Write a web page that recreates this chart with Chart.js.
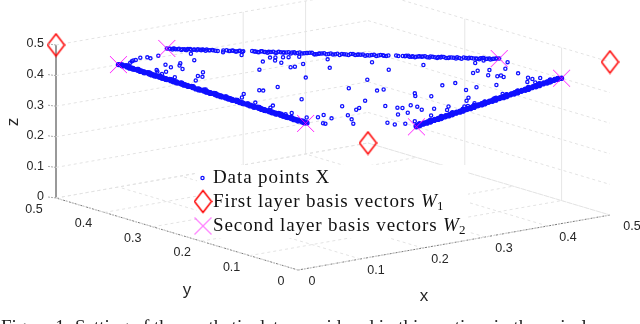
<!DOCTYPE html>
<html>
<head>
<meta charset="utf-8">
<title>Synthetic data</title>
<script src="https://cdn.jsdelivr.net/npm/chart.js@4/dist/chart.umd.js"></script>
<style>
  html, body { margin: 0; padding: 0; background: #fff; overflow: hidden; }
  canvas { display: block; }
</style>
</head>
<body>
<canvas id="myChart" width="640" height="324"></canvas>
<script>
// axis ticks
const xTicks = [0, 0.1, 0.2, 0.3, 0.4, 0.5];
const yTicks = [0, 0.1, 0.2, 0.3, 0.4, 0.5];
const zTicks = [0, 0.1, 0.2, 0.3, 0.4, 0.5];
const tickLabels = ['0', '0.1', '0.2', '0.3', '0.4', '0.5'];

// vertical grid lines that can be seen on the two back walls
const wallXTicks = [0.3, 0.4];
const wallYTicks = [0.1, 0.3];

// first layer basis vectors
const w1X = [0, 0.5, 0.5];
const w1Y = [0.5, 0.5, 0];
const w1Z = [0.5, 0, 0.5];

// second layer basis vectors
const w2X = [0.1, 0.1, 0.4, 0.5, 0.4, 0.5];
const w2Y = [0.5, 0.4, 0.5, 0.4, 0.1, 0.1];
const w2Z = [0.4, 0.5, 0.1, 0.1, 0.5, 0.4];

// data points along the top edge
const topX = [.100,.103,.106,.108,.111,.114,.117,.119,.122,.125,.128,.131,.133,.136,.139,.142,.146,
  .151,.154,.157,.160,.163,.166,.169,
  .177,.180,.183,.186,.189,.192,.196,.199,.203,.206,.210,.213,.216,.220,.224,.227,.231,.235,.238,.242,.246,.250,.254,.258,.262,.266,.270,.273,.277,.281,.285,.289,.293,.296,.300,
  .307,.309,
  .313,.316,.319,.322,.325,.328,.331,.335,.338,.342,.345,.348,.352,.355,.359,.362,.366,.370,.373,.377,.380,.383,.386,.389,.392,.395,.398,.400];
const topY = [.400,.397,.394,.392,.389,.386,.383,.381,.378,.375,.372,.369,.367,.364,.361,.358,.354,
  .349,.346,.343,.340,.337,.334,.331,
  .323,.320,.317,.314,.311,.308,.304,.301,.297,.294,.290,.287,.284,.280,.276,.273,.269,.265,.262,.258,.254,.250,.246,.242,.238,.234,.230,.227,.223,.219,.215,.211,.207,.204,.200,
  .193,.191,
  .187,.184,.181,.178,.175,.172,.169,.165,.162,.158,.155,.152,.148,.145,.141,.138,.134,.130,.127,.123,.120,.117,.114,.111,.108,.105,.102,.100];
const topZ = [.500,.499,.500,.498,.500,.499,.497,.500,.498,.499,.500,.497,.499,.500,.498,.499,.497,
  .499,.500,.498,.499,.497,.500,.498,
  .500,.499,.497,.500,.498,.499,.500,.497,.499,.498,.500,.499,.497,.500,.498,.499,.500,.496,.499,.500,.498,.497,.500,.499,.498,.500,.497,.499,.500,.498,.499,.496,.500,.498,.499,
  .500,.498,
  .499,.500,.497,.499,.498,.500,.499,.497,.500,.498,.499,.500,.497,.499,.498,.500,.496,.499,.500,.498,.497,.499,.500,.498,.496,.499,.500,.500];
const top2X = [.102,.105,.107,.110,.113,.116,.118,.121,.124,.127,.130,.132,.135,.138,.141,.144,
  .156,.159,.162,.165,.168,
  .179,.182,.185,.188,.191,.194,.198,.201,.205,.208,.212,.215,.218,.222,.226,.229,.233,.237,.240,.244,.248,.252,.256,.260,.264,.268,.272,.275,.279,.283,.287,.291,.295,.298,
  .315,.318,.321,.324,.327,.330,.333,.337,.340,.344,.347,.350,.354,.357,.361,.364,.368,.372,.375,.379,.382,.385,.388,.391,.394,.397];
const top2Y = [.398,.395,.393,.390,.387,.384,.382,.379,.376,.373,.370,.368,.365,.362,.359,.356,
  .344,.341,.338,.335,.332,
  .321,.318,.315,.312,.309,.306,.302,.299,.295,.292,.288,.285,.282,.278,.274,.271,.267,.263,.260,.256,.252,.248,.244,.240,.236,.232,.228,.225,.221,.217,.213,.209,.205,.202,
  .185,.182,.179,.176,.173,.170,.167,.163,.160,.156,.153,.150,.146,.143,.139,.136,.132,.128,.125,.121,.118,.115,.112,.109,.106,.103];
const top2Z = [.499,.497,.500,.498,.496,.499,.497,.500,.498,.497,.499,.500,.496,.498,.499,.497,
  .498,.500,.497,.499,.496,
  .499,.497,.500,.498,.496,.499,.497,.500,.498,.499,.496,.500,.498,.497,.499,.500,.496,.498,.499,.497,.500,.498,.496,.499,.497,.500,.498,.499,.496,.497,.500,.498,.499,.497,
  .498,.500,.497,.496,.499,.498,.500,.497,.499,.496,.498,.500,.497,.499,.496,.498,.500,.497,.499,.498,.496,.500,.497,.499,.498,.500];

// data points along the lower left edge
const leftX = [.100,.104,.107,.111,.114,.118,.121,.125,.128,.132,.135,.139,.142,.146,.149,.153,.156,.160,.163,.167,.170,.174,.177,.181,.184,.188,.191,.195,.198,.202,.205,.209,.212,.216,.219,
  .224,.227,.231,.234,.238,.241,.245,.248,.252,.255,.259,.262,.266,.269,.273,.276,.280,.283,.287,.290,.294,.297,.301,.304,.308,.311,.315,.318,.322,.325,.329,.332,.336,.339,.343,.346,.350,.353,.357,.360,.364,.367,.371,.374,.378,.381,.385,.388,.392,.395,.398,.400];
const leftY = [.500,.497,.499,.495,.498,.500,.497,.499,.495,.498,.500,.497,.499,.495,.498,.500,.497,.499,.495,.498,.500,.497,.499,.495,.498,.500,.497,.499,.495,.498,.500,.497,.499,.495,.498,
  .500,.497,.499,.495,.498,.500,.497,.499,.495,.498,.500,.497,.499,.495,.498,.500,.497,.499,.495,.498,.500,.497,.499,.495,.498,.500,.497,.499,.495,.498,.500,.497,.499,.495,.498,.500,.497,.499,.495,.498,.500,.497,.499,.495,.498,.500,.497,.499,.495,.498,.500,.497];
const leftZ = [.400,.399,.394,.394,.388,.382,.382,.376,.377,.370,.365,.364,.359,.359,.353,.347,.347,.341,.342,.335,.330,.329,.324,.324,.318,.312,.312,.306,.307,.300,.295,.294,.289,.289,.283,
  .276,.276,.270,.271,.264,.259,.258,.253,.253,.247,.241,.241,.235,.236,.229,.224,.223,.218,.218,.212,.206,.206,.200,.201,.194,.189,.188,.183,.183,.177,.171,.171,.165,.166,.159,.154,.153,.148,.148,.142,.136,.136,.130,.131,.124,.119,.118,.113,.113,.107,.102,.103];
const left2X = [.102,.106,.109,.113,.116,.120,.123,.127,.130,.134,.137,.141,.144,.148,.151,.155,.158,.162,.165,.169,.172,.176,.179,.183,.186,.190,.193,.197,.200,.204,.207,.211,.214,.218,
  .226,.229,.233,.236,.240,.243,.247,.250,.254,.257,.261,.264,.268,.271,.275,.278,.282,.285,.289,.292,.296,.299,.303,.306,.310,.313,.317,.320,.324,.327,.331,.334,.338,.341,.345,.348,.352,.355,.359,.362,.366,.369,.373,.376,.380,.383,.387,.390,.394,.397];
const left2Y = [.498,.500,.496,.499,.497,.498,.500,.496,.499,.497,.498,.500,.496,.499,.497,.498,.500,.496,.499,.497,.498,.500,.496,.499,.497,.498,.500,.496,.499,.497,.498,.500,.496,.499,
  .498,.500,.496,.499,.497,.498,.500,.496,.499,.497,.498,.500,.496,.499,.497,.498,.500,.496,.499,.497,.498,.500,.496,.499,.497,.498,.500,.496,.499,.497,.498,.500,.496,.499,.497,.498,.500,.496,.499,.497,.498,.500,.496,.499,.497,.498,.500,.496,.499,.497];
const left2Z = [.400,.394,.395,.388,.387,.382,.377,.377,.371,.369,.365,.359,.360,.353,.352,.347,.342,.342,.336,.334,.330,.324,.325,.318,.317,.312,.307,.307,.301,.299,.295,.289,.290,.283,
  .276,.271,.271,.265,.263,.259,.253,.254,.247,.246,.241,.236,.236,.230,.228,.224,.218,.219,.212,.211,.206,.201,.201,.195,.193,.189,.183,.184,.177,.176,.171,.166,.166,.160,.158,.154,.148,.149,.142,.141,.136,.131,.131,.125,.123,.119,.113,.114,.107,.106];

// data points along the lower right edge
const rightX = [.500,.497,.499,.495,.498,.500,.497,.499,.495,.498,.500,.497,.499,.495,.498,.500,.497,.499,.495,.498,.500,.497,.499,.495,.498,.500,.497,.499,.495,.498,.500,.497,.499,.495,.498,.500,.497,.499,.495,.498,.500,.497,.499,.495,.498,.500,.497,.499,.495,.498,.500,.497,.499,.495,.498,.500,.497,.499,.495,.498,.500,.497,.499,.495,.498,.500,.497,.500];
const rightY = [.400,.396,.391,.387,.382,.378,.373,.369,.364,.360,.355,.351,.346,.342,.337,.333,.328,.324,.319,.315,.310,.306,.301,.297,.292,.288,.283,.279,.274,.270,.265,.261,.256,.252,.247,.243,.238,.234,.229,.225,.220,.216,.211,.207,.202,.198,.193,.189,.184,.180,.175,.171,.166,.162,.157,.153,.148,.144,.139,.135,.130,.126,.121,.117,.112,.108,.104,.100];
const rightZ = [.100,.107,.110,.118,.120,.122,.130,.132,.141,.142,.145,.152,.155,.163,.165,.167,.175,.177,.186,.187,.190,.197,.200,.208,.210,.212,.220,.222,.231,.232,.235,.242,.245,.253,.255,.257,.265,.267,.276,.277,.280,.287,.290,.298,.300,.302,.310,.312,.321,.322,.325,.332,.335,.343,.345,.347,.355,.357,.366,.367,.370,.377,.380,.388,.390,.392,.399,.400];
const right2X = [.498,.500,.496,.499,.497,.498,.500,.496,.499,.497,.498,.500,.496,.499,.497,.498,.500,.496,.499,.497,.498,.500,.496,.499,.497,.498,.500,.496,.499,.497,.498,.500,.496,.499,.497,.498,.500,.496,.499,.497,.498,.500,.496,.499,.497,.498,.500,.496,.499,.497,.498,.500,.496,.499,.497,.498,.500,.496,.499,.497,.498,.500,.496,.499,.497,.498,.500];
const right2Y = [.398,.394,.389,.385,.380,.376,.371,.367,.362,.358,.353,.349,.344,.340,.335,.331,.326,.322,.317,.313,.308,.304,.299,.295,.290,.286,.281,.277,.272,.268,.263,.259,.254,.250,.245,.241,.236,.232,.227,.223,.218,.214,.209,.205,.200,.196,.191,.187,.182,.178,.173,.169,.164,.160,.155,.151,.146,.142,.137,.133,.128,.124,.119,.115,.110,.106,.102];
const right2Z = [.104,.106,.115,.116,.123,.126,.129,.137,.139,.145,.149,.151,.160,.161,.168,.171,.174,.182,.184,.190,.194,.196,.205,.206,.213,.216,.219,.227,.229,.235,.239,.241,.250,.251,.258,.261,.264,.272,.274,.280,.284,.286,.295,.296,.303,.306,.309,.317,.319,.325,.329,.331,.340,.341,.348,.351,.354,.362,.364,.370,.374,.376,.385,.386,.393,.396,.398];

// data points inside the triangle
const innerX = [.105,.103,.103,.103,.101,.106,.111,.112,.139,.150,.153,.148,.164,.134,.151,.145,.150,.159,.157,.178,.203,.194,.189,.199,.156,.178,.229,.212,.208,.212,.220,.230,.218,.223,.248,.251,.251,.287,.230,.237,.280,.284,.287,.337,.276,.284,.307,.329,.332,.387,.363,.353,.361,.395,.233,.276,
  .260,.282,.304,.337,.343,.349,.378,.380,.416,.423,.437,.419,.425,.450,.452,.353,.391,.412,.414,.420,.432,.442,.444,.449,.463,.430,.415,.452,.392,.471,.478,.488,.482,.480,.393,.406,.409,.388,.415,.428,.440,.409,.394,.414,.417,.466,.477,.483,.423,.437,.442,.455,.459,.442,.451,.462,.471,.484,.485,.477,.484,.471,.478,.490,.491,.490,.495,.490,.491];
const innerY = [.482,.476,.473,.468,.456,.448,.448,.433,.453,.456,.442,.434,.450,.394,.409,.479,.484,.486,.475,.484,.473,.457,.440,.454,.356,.346,.375,.346,.326,.320,.331,.331,.312,.307,.335,.330,.313,.354,.294,.271,.441,.438,.412,.427,.468,.482,.484,.476,.485,.481,.481,.495,.491,.468,.491,.496,
  .274,.298,.239,.247,.299,.345,.324,.313,.295,.303,.288,.242,.223,.233,.214,.196,.138,.160,.172,.146,.164,.158,.153,.154,.187,.126,.102,.128,.122,.132,.132,.139,.121,.145,.368,.397,.407,.409,.432,.441,.453,.458,.455,.482,.481,.416,.415,.401,.365,.358,.354,.380,.365,.337,.335,.340,.326,.349,.384,.304,.316,.255,.268,.288,.282,.267,.233,.209,.188];
const innerZ = [.413,.421,.425,.429,.443,.446,.441,.456,.408,.394,.405,.418,.386,.473,.439,.376,.367,.355,.368,.338,.324,.349,.371,.346,.488,.476,.396,.442,.466,.468,.450,.439,.470,.471,.416,.419,.436,.359,.476,.492,.279,.278,.301,.236,.256,.235,.209,.195,.183,.133,.156,.153,.148,.137,.275,.229,
  .466,.419,.457,.417,.358,.306,.298,.306,.289,.274,.275,.339,.353,.317,.334,.451,.471,.428,.414,.434,.404,.400,.404,.397,.350,.444,.482,.420,.486,.397,.390,.372,.397,.374,.239,.197,.185,.203,.153,.131,.107,.133,.151,.104,.102,.118,.109,.116,.212,.205,.204,.166,.177,.221,.214,.198,.204,.167,.131,.220,.200,.274,.255,.223,.227,.243,.273,.301,.312];

const legendLabels = ['Data points X', 'First layer basis vectors ', 'Second layer basis vectors '];
const caption = 'Figure 1: Setting of the synthetic data considered in this section, in the noiseless';

// the 3D view of the axes, flattened on the chart plane
function project(x, y, z) {
    return { x: 298 + 624 * x - 484 * y, y: 270 - 110 * x - 144 * y - 306 * z };
}

function cloud(xs, ys, zs) {
    return xs.map((v, i) => project(v, ys[i], zs[i]));
}

function gridLine(a, b, color, dash, width) {
    return {
        type: 'scatter',
        data: [project(a[0], a[1], a[2]), project(b[0], b[1], b[2])],
        showLine: true,
        pointRadius: 0,
        borderColor: color,
        borderDash: dash,
        borderWidth: width
    };
}

// red diamond, chart.js has no tall one
function makeDiamond() {
    const c = document.createElement('canvas');
    c.width = 19;
    c.height = 25;
    const g = c.getContext('2d');
    g.strokeStyle = '#ff0000';
    g.lineWidth = 1.5;
    g.beginPath();
    g.moveTo(9.5, 1.5);
    g.lineTo(18, 12.5);
    g.lineTo(9.5, 23.5);
    g.lineTo(1, 12.5);
    g.closePath();
    g.stroke();
    return c;
}
const diamond = makeDiamond();

// magenta cross
function makeCross() {
    const c = document.createElement('canvas');
    c.width = 19;
    c.height = 19;
    const g = c.getContext('2d');
    g.strokeStyle = '#ff00ff';
    g.lineWidth = 0.9;
    g.beginPath();
    g.moveTo(1, 1);
    g.lineTo(18, 18);
    g.moveTo(18, 1);
    g.lineTo(1, 18);
    g.stroke();
    return c;
}
const cross = makeCross();

const gridColor = '#e3e3e3';
const gridDash = [3, 3];
let gridSets = [];
xTicks.forEach(t => {
    gridSets.push(gridLine([t, 0, 0], [t, 0.5, 0], gridColor, gridDash, 1));
});
yTicks.forEach(t => {
    gridSets.push(gridLine([0, t, 0], [0.5, t, 0], gridColor, gridDash, 1));
});
zTicks.forEach(t => {
    gridSets.push(gridLine([0, 0.5, t], [0.5, 0.5, t], gridColor, gridDash, 1));
    gridSets.push(gridLine([0.5, 0.5, t], [0.5, 0, t], gridColor, gridDash, 1));
});
wallXTicks.forEach(t => {
    gridSets.push(gridLine([t, 0.5, 0], [t, 0.5, 0.5], '#e6e6e6', [], 1));
});
wallYTicks.forEach(t => {
    gridSets.push(gridLine([0.5, t, 0], [0.5, t, 0.5], '#e6e6e6', [], 1));
});
// axis lines
gridSets.push(gridLine([0, 0.5, 0], [0, 0.5, 0.5], '#999999', [], 2));
gridSets.push(gridLine([0, 0, 0], [0, 0.5, 0], '#777777', [2, 1], 1));
gridSets.push(gridLine([0, 0, 0], [0.5, 0, 0], '#777777', [2, 1], 1));

// ticks, axis names, legend and caption
const textPlugin = {
    id: 'textPlugin',
    afterDatasetsDraw(chart) {
        const ctx = chart.ctx;
        const sx = chart.scales.x;
        const sy = chart.scales.y;
        const px = p => sx.getPixelForValue(p.x);
        const py = p => sy.getPixelForValue(p.y);
        ctx.save();
        ctx.fillStyle = '#262626';
        ctx.textBaseline = 'middle';
        ctx.font = '12.5px "Liberation Sans"';

        // z ticks
        ctx.textAlign = 'right';
        zTicks.forEach((t, i) => {
            const p = project(0, 0.5, t);
            ctx.fillText(tickLabels[i], px(p) - 12, py(p) - 1);
            ctx.strokeStyle = '#aaaaaa';
            ctx.lineWidth = 1;
            ctx.setLineDash([2, 1]);
            ctx.beginPath();
            ctx.moveTo(px(p) - 8, py(p) - 1);
            ctx.lineTo(px(p), py(p));
            ctx.stroke();
        });
        ctx.setLineDash([]);

        // x and y ticks
        ctx.textAlign = 'center';
        xTicks.forEach((t, i) => {
            const p = project(t, 0, 0);
            ctx.fillText(tickLabels[i], px(p) + 14 + 16 * t, py(p) + 12);
        });
        yTicks.forEach((t, i) => {
            const p = project(0, t, 0);
            ctx.fillText(tickLabels[i], px(p) - 17 - 10 * t, py(p) + 11.5);
        });

        // axis names
        ctx.font = '17px "Liberation Sans"';
        ctx.fillText('x', 424, 296);
        ctx.fillText('y', 187, 290);
        ctx.save();
        ctx.translate(13, 122);
        ctx.rotate(-Math.PI / 2);
        ctx.fillText('z', 0, 0);
        ctx.restore();

        // legend box
        ctx.fillStyle = '#ffffff';
        ctx.fillRect(197, 165, 271, 73);
        ctx.textAlign = 'left';
        ctx.textBaseline = 'alphabetic';
        ctx.fillStyle = '#111111';
        ctx.font = '19px "Liberation Serif"';
        ctx.letterSpacing = '0.9px';
        const rows = [183, 207, 231];
        legendLabels.forEach((label, i) => {
            ctx.fillText(label, 213, rows[i]);
        });
        const wX = 213 + ctx.measureText(legendLabels[1]).width;
        const wX2 = 213 + ctx.measureText(legendLabels[2]).width;
        ctx.letterSpacing = '0px';
        ctx.font = 'italic 19px "Liberation Serif"';
        ctx.fillText('W', wX, rows[1]);
        ctx.fillText('W', wX2, rows[2]);
        const wWidth = ctx.measureText('W').width;
        ctx.font = '13px "Liberation Serif"';
        ctx.fillText('1', wX + wWidth, rows[1] + 3);
        ctx.fillText('2', wX2 + wWidth, rows[2] + 3);

        // legend keys
        ctx.strokeStyle = '#1010ff';
        ctx.lineWidth = 1.3;
        ctx.beginPath();
        ctx.arc(202.5, 178, 1.6, 0, 2 * Math.PI);
        ctx.stroke();
        ctx.drawImage(diamond, 193.5, 189);
        ctx.drawImage(cross, 193.5, 216.5);

        // caption, cut by the bottom of the picture
        ctx.fillStyle = '#222222';
        ctx.font = '19px "Liberation Serif"';
        ctx.fillText(caption, 1, 332.5);
        ctx.restore();
    }
};

const ctx = document.getElementById('myChart').getContext('2d');
new Chart(ctx, {
    type: 'scatter',
    data: {
        datasets: [
            {
                label: 'W2',
                data: cloud(w2X, w2Y, w2Z),
                pointStyle: cross,
                pointRadius: 10
            },
            {
                label: 'W1',
                data: cloud(w1X, w1Y, w1Z),
                pointStyle: diamond,
                pointRadius: 12
            },
            {
                label: 'X',
                data: cloud(topX, topY, topZ)
                    .concat(cloud(top2X, top2Y, top2Z))
                    .concat(cloud(innerX, innerY, innerZ)),
                pointStyle: 'circle',
                pointRadius: 1.6,
                pointBackgroundColor: 'transparent',
                pointBorderColor: '#1010ff',
                pointBorderWidth: 1.3
            },
            {
                label: 'X lower edges',
                data: cloud(leftX, leftY, leftZ)
                    .concat(cloud(left2X, left2Y, left2Z))
                    .concat(cloud(rightX, rightY, rightZ))
                    .concat(cloud(right2X, right2Y, right2Z)),
                pointStyle: 'circle',
                pointRadius: 2,
                pointBackgroundColor: '#1010ff',
                pointBorderColor: '#1010ff',
                pointBorderWidth: 1.2
            }
        ].concat(gridSets)
    },
    options: {
        responsive: false,
        animation: false,
        events: [],
        layout: { padding: 0, autoPadding: false },
        plugins: { legend: { display: false }, tooltip: { enabled: false } },
        scales: {
            x: { type: 'linear', min: 0, max: 640, display: false },
            y: { type: 'linear', min: 0, max: 324, reverse: true, display: false }
        }
    },
    plugins: [textPlugin]
});
</script>
</body>
</html>
